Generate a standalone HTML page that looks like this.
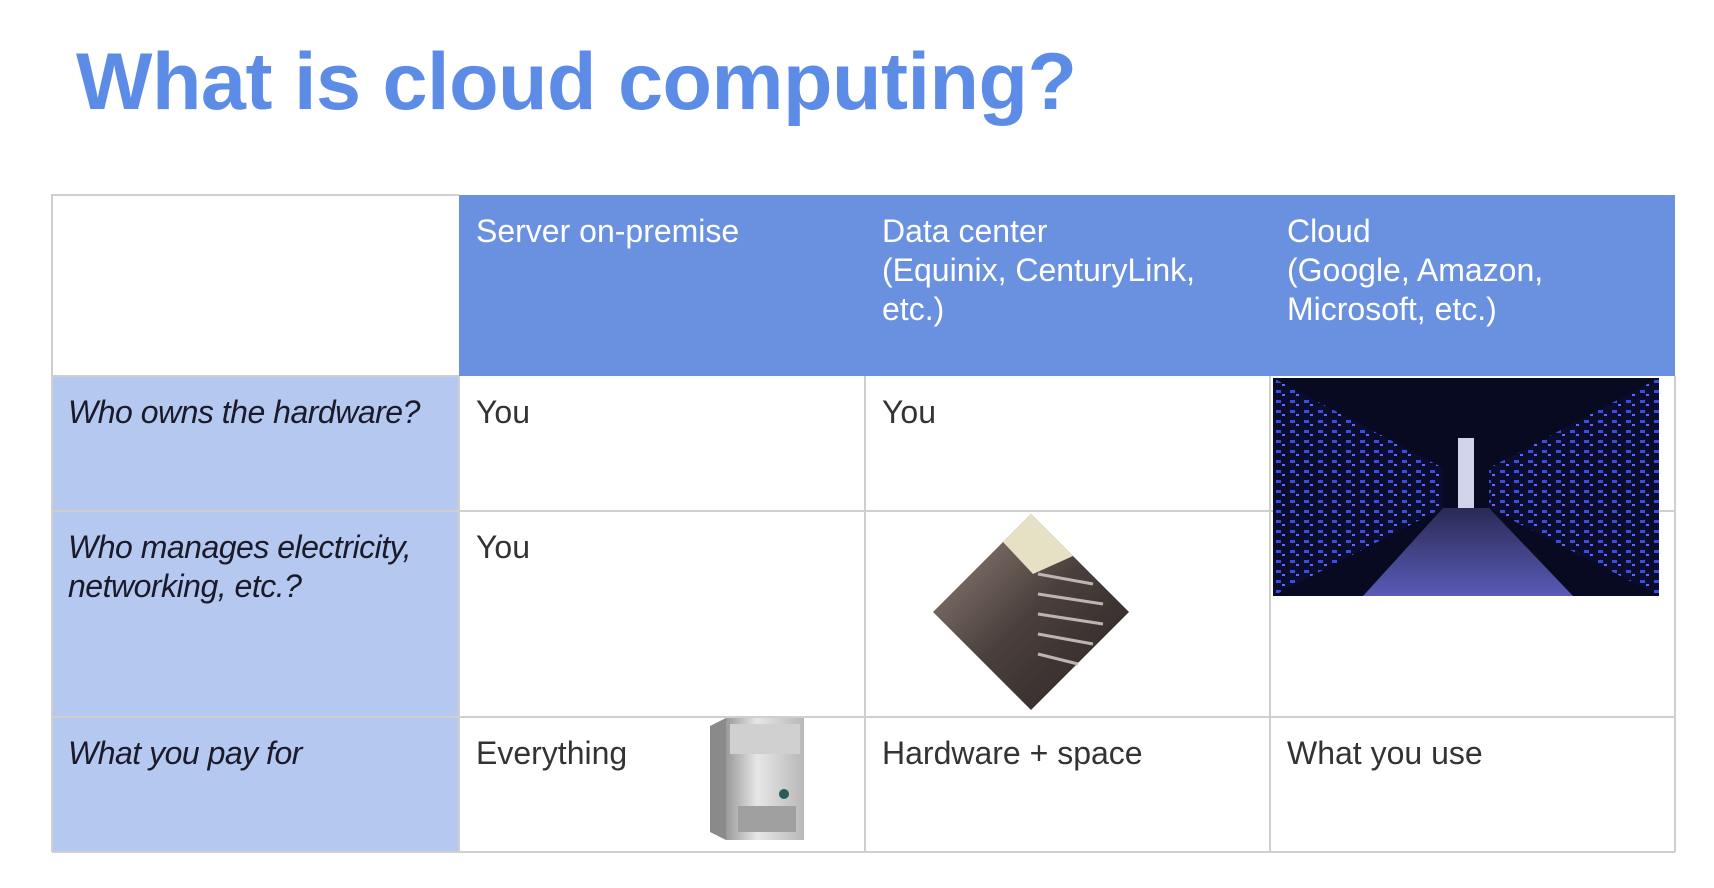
<!DOCTYPE html>
<html><head><meta charset="utf-8"><style>
body{margin:0;width:1714px;height:888px;background:#fff;position:relative;overflow:hidden;font-family:"Liberation Sans",sans-serif}
.t{position:absolute;left:76px;top:36px;font-size:81px;font-weight:bold;color:#5d8ce6;letter-spacing:-0.5px;white-space:nowrap}
.c{position:absolute;box-sizing:border-box;padding:17px 17px;font-size:32px;line-height:39px;color:#333;white-space:nowrap}
.h{background:#6a91e0;color:#fff}
.l{background:#b5c8f0;color:#1a1a2a;font-style:italic;padding-left:16px;letter-spacing:-0.5px}
.hl{position:absolute;height:2px;background:#cfcfcf}
.vl{position:absolute;width:2px;background:#cfcfcf}
</style></head><body>
<div class="t">What is cloud computing?</div>
<div class="c h" style="left:459px;top:195px;width:406px;height:181px">Server on-premise</div>
<div class="c h" style="left:865px;top:195px;width:405px;height:181px">Data center<br>(Equinix, CenturyLink,<br>etc.)</div>
<div class="c h" style="left:1270px;top:195px;width:405px;height:181px">Cloud<br>(Google, Amazon,<br>Microsoft, etc.)</div>
<div class="c l" style="left:52px;top:376px;width:407px;height:135px">Who owns the hardware?</div>
<div class="c l" style="left:52px;top:511px;width:407px;height:206px">Who manages electricity,<br>networking, etc.?</div>
<div class="c l" style="left:52px;top:717px;width:407px;height:135px">What you pay for</div>
<div class="c" style="left:459px;top:376px">You</div>
<div class="c" style="left:865px;top:376px">You</div>
<div class="c" style="left:459px;top:511px">You</div>
<div class="c" style="left:459px;top:717px">Everything</div>
<div class="c" style="left:865px;top:717px">Hardware + space</div>
<div class="c" style="left:1270px;top:717px">What you use</div>
<div class="hl" style="left:52px;top:194px;width:407px"></div>
<div class="hl" style="left:52px;top:375px;width:407px"></div>
<div class="hl" style="left:52px;top:510px;width:1623px"></div>
<div class="hl" style="left:52px;top:716px;width:1623px"></div>
<div class="hl" style="left:52px;top:851px;width:1623px"></div>
<div class="vl" style="left:51px;top:194px;height:658px"></div>
<div class="vl" style="left:864px;top:376px;height:476px"></div>
<div class="vl" style="left:1269px;top:376px;height:476px"></div>
<div class="vl" style="left:1674px;top:376px;height:476px"></div>
<div class="vl" style="left:458px;top:376px;height:476px"></div>
<svg style="position:absolute;left:1273px;top:378px" width="386" height="218" viewBox="0 0 386 218">
<defs><linearGradient id="fl" x1="0" y1="0" x2="0" y2="1"><stop offset="0" stop-color="#2a2a55"/><stop offset="1" stop-color="#5a5ab8"/></linearGradient>
<pattern id="rk" width="14" height="10" patternUnits="userSpaceOnUse"><rect width="14" height="10" fill="#0a0c30"/><rect x="3" y="2" width="5" height="3" fill="#3c4ee0"/><rect x="9" y="6" width="3" height="2" fill="#5a6cff"/></pattern></defs>
<rect width="386" height="218" fill="#070a20"/>
<polygon points="0,0 170,90 170,130 0,218" fill="url(#rk)"/>
<polygon points="386,0 216,90 216,130 386,218" fill="url(#rk)"/>
<polygon points="170,130 216,130 300,218 90,218" fill="url(#fl)"/>
<rect x="185" y="60" width="16" height="70" fill="#cfd4ea"/>
</svg>
<svg style="position:absolute;left:933px;top:514px" width="196" height="196" viewBox="0 0 196 196">
<defs><linearGradient id="dg" x1="0" y1="0" x2="1" y2="1"><stop offset="0" stop-color="#9a8a80"/><stop offset="0.5" stop-color="#4a3f3c"/><stop offset="1" stop-color="#2a2424"/></linearGradient></defs>
<polygon points="98,0 196,98 98,196 0,98" fill="url(#dg)"/>
<polygon points="98,0 140,42 100,60 70,28" fill="#e6e0c4"/>
<g stroke="#bdb6b0" stroke-width="3"><line x1="105" y1="60" x2="160" y2="70"/><line x1="105" y1="80" x2="170" y2="90"/><line x1="105" y1="100" x2="170" y2="110"/><line x1="105" y1="120" x2="160" y2="130"/><line x1="105" y1="140" x2="145" y2="150"/></g>
</svg>
<svg style="position:absolute;left:708px;top:716px" width="98" height="126" viewBox="0 0 98 126">
<defs><linearGradient id="sv" x1="0" y1="0" x2="1" y2="0"><stop offset="0" stop-color="#9a9a9a"/><stop offset="0.4" stop-color="#e6e6e6"/><stop offset="1" stop-color="#b8b8b8"/></linearGradient></defs>
<polygon points="2,10 18,2 96,2 96,118 18,124 2,116" fill="#8a8a8a"/>
<rect x="18" y="2" width="78" height="122" fill="url(#sv)"/>
<rect x="22" y="8" width="70" height="30" fill="#d0d0d0"/>
<circle cx="76" cy="78" r="5" fill="#2a5a5a"/>
<rect x="30" y="90" width="58" height="26" fill="#a0a0a0"/>
</svg>
</body></html>
